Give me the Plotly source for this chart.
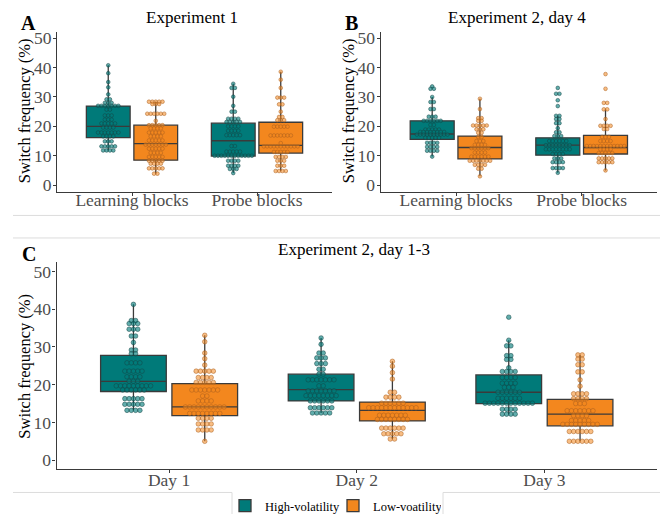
import numpy as np
import plotly.graph_objects as go

FONT = "Liberation Serif"
TEAL = "#007A79"
ORANGE = "#F3871E"
TEAL_DOT = "rgba(0,122,121,0.62)"
ORANGE_DOT = "rgba(243,135,30,0.55)"
TEAL_EDGE = "rgba(20,70,70,0.85)"
ORANGE_EDGE = "rgba(170,95,30,0.85)"

# ---------------- data ----------------
cats_A = ["Learning blocks", "Probe blocks"]
cats_B = ["Learning blocks", "Probe blocks"]
cats_C = ["Day 1", "Day 2", "Day 3"]
legend_names = ["High-volatility", "Low-voatility"]
y_ticks = [0, 10, 20, 30, 40, 50]

# box statistics  [q1, median, q3, lower whisker, upper whisker]
box_A_high = [[16.2, 20.0, 26.9, 11.8, 40.8], [9.9, 15.1, 21.1, 4.1, 34.5]]
box_A_low = [[8.5, 14.1, 20.4, 3.9, 28.4], [10.9, 13.5, 21.4, 4.8, 38.6]]
box_B_high = [[15.6, 17.4, 21.9, 9.7, 30.0], [10.2, 13.6, 16.1, 4.2, 23.6]]
box_B_low = [[8.9, 12.8, 16.7, 3.0, 29.4], [10.6, 12.8, 16.9, 5.0, 25.8]]
box_C_high = [[18.2, 20.9, 27.8, 13.2, 41.3], [15.7, 18.7, 22.8, 12.5, 32.4], [15.0, 18.0, 22.6, 12.2, 31.8]]
box_C_low = [[11.8, 14.1, 20.3, 5.0, 33.1], [10.4, 13.2, 15.4, 5.6, 26.2], [9.1, 12.2, 16.1, 5.0, 27.9]]

# individual participants: distinct values and how many participants share each
A_learn_high_vals = [40.8, 38.1, 35.1, 33.3, 30.9, 29.2, 28.0, 27.0, 25.7, 23.7, 22.3, 21.0, 19.6, 17.9, 16.6, 14.9, 13.2, 11.8]
A_learn_high_cnts = [1, 1, 1, 1, 1, 2, 3, 7, 2, 3, 3, 5, 4, 7, 4, 3, 5, 4]
A_learn_low_vals = [28.4, 27.6, 24.3, 21.9, 20.4, 19.3, 17.9, 16.6, 15.2, 13.8, 12.4, 11.0, 9.6, 8.3, 7.3, 5.7, 3.9]
A_learn_low_cnts = [5, 3, 6, 1, 5, 4, 5, 4, 5, 7, 5, 4, 5, 5, 4, 5, 2]
A_probe_high_vals = [34.5, 33.1, 30.1, 27.0, 25.0, 22.6, 21.5, 20.0, 18.5, 17.0, 13.3, 11.4, 10.0, 8.3, 6.6, 5.5, 4.1]
A_probe_high_cnts = [1, 2, 1, 1, 2, 4, 5, 4, 4, 5, 2, 5, 12, 4, 4, 3, 1]
A_probe_low_vals = [38.6, 35.9, 33.1, 29.8, 27.5, 25.0, 23.2, 22.1, 19.9, 16.9, 14.3, 13.2, 11.3, 9.6, 8.3, 6.6, 4.8]
A_probe_low_cnts = [1, 1, 1, 3, 2, 1, 2, 3, 5, 7, 1, 11, 5, 4, 3, 3, 4]

B_learn_high_vals = [33.6, 32.8, 30.0, 28.3, 25.9, 23.3, 21.9, 20.5, 18.9, 18.1, 17.2, 16.1, 14.4, 13.0, 11.7, 9.7]
B_learn_high_cnts = [1, 2, 1, 2, 2, 3, 6, 2, 5, 8, 10, 5, 4, 4, 4, 1]
B_learn_low_vals = [29.4, 25.9, 22.8, 21.9, 20.3, 19.0, 17.8, 16.4, 15.0, 13.7, 12.6, 11.1, 9.7, 8.3, 6.9, 5.6, 3.0]
B_learn_low_cnts = [1, 1, 2, 2, 5, 3, 2, 2, 3, 4, 6, 4, 6, 7, 4, 2, 1]
B_probe_high_vals = [33.1, 31.1, 28.9, 26.9, 23.6, 22.5, 21.1, 19.4, 18.0, 16.7, 15.0, 13.6, 12.2, 10.6, 9.1, 7.8, 5.8, 4.2]
B_probe_high_cnts = [1, 2, 1, 1, 2, 2, 2, 1, 2, 3, 6, 8, 8, 4, 3, 4, 4, 1]
B_probe_low_vals = [37.8, 32.8, 28.0, 25.8, 22.5, 20.2, 19.1, 16.4, 15.0, 13.3, 12.2, 10.9, 9.1, 7.8, 5.0]
B_probe_low_cnts = [1, 1, 2, 2, 1, 4, 2, 3, 4, 12, 4, 5, 5, 5, 1]

C_d1_high_vals = [41.3, 37.0, 36.2, 34.7, 32.9, 31.2, 29.2, 28.2, 25.8, 23.6, 22.1, 20.9, 19.7, 18.6, 16.3, 14.8, 13.2]
C_d1_high_cnts = [1, 2, 3, 3, 2, 1, 2, 2, 4, 5, 4, 3, 9, 6, 5, 5, 4]
C_d1_low_vals = [33.1, 31.4, 28.4, 26.9, 25.2, 23.6, 21.9, 20.6, 18.6, 17.0, 15.7, 14.1, 12.4, 11.1, 9.6, 8.0, 5.0]
C_d1_low_cnts = [1, 1, 1, 1, 1, 5, 4, 5, 7, 2, 4, 10, 8, 4, 4, 4, 1]
C_d2_high_vals = [32.4, 30.7, 28.4, 27.1, 25.6, 24.1, 22.8, 21.3, 19.7, 18.4, 17.1, 15.7, 13.9, 12.5]
C_d2_high_cnts = [1, 1, 2, 3, 3, 2, 2, 7, 2, 7, 8, 6, 6, 5]
C_d2_low_vals = [26.2, 24.9, 23.2, 21.5, 18.0, 16.7, 15.1, 13.9, 11.9, 10.8, 8.5, 7.0, 5.6]
C_d2_low_cnts = [1, 1, 1, 1, 2, 4, 6, 12, 7, 8, 6, 5, 2]
C_d3_high_vals = [37.9, 31.8, 30.3, 27.7, 26.7, 24.5, 23.5, 21.9, 20.4, 19.3, 18.0, 16.4, 15.1, 13.5, 12.2]
C_d3_high_cnts = [1, 1, 2, 2, 2, 1, 4, 4, 4, 3, 6, 6, 12, 4, 4]
C_d3_low_vals = [27.9, 26.8, 25.3, 23.4, 21.3, 19.6, 17.6, 16.3, 15.0, 13.1, 11.8, 10.5, 9.5, 7.6, 5.0]
C_d3_low_cnts = [2, 2, 2, 2, 1, 1, 4, 4, 3, 7, 4, 5, 9, 6, 6]

dots_A_high = [(A_learn_high_vals, A_learn_high_cnts), (A_probe_high_vals, A_probe_high_cnts)]
dots_A_low = [(A_learn_low_vals, A_learn_low_cnts), (A_probe_low_vals, A_probe_low_cnts)]
dots_B_high = [(B_learn_high_vals, B_learn_high_cnts), (B_probe_high_vals, B_probe_high_cnts)]
dots_B_low = [(B_learn_low_vals, B_learn_low_cnts), (B_probe_low_vals, B_probe_low_cnts)]
dots_C_high = [(C_d1_high_vals, C_d1_high_cnts), (C_d2_high_vals, C_d2_high_cnts), (C_d3_high_vals, C_d3_high_cnts)]
dots_C_low = [(C_d1_low_vals, C_d1_low_cnts), (C_d2_low_vals, C_d2_low_cnts), (C_d3_low_vals, C_d3_low_cnts)]

# ---------------- figure ----------------
W, H = 660, 521
fig = go.Figure()

DODGE = 0.19
BOXW = 0.35


def px_x(p):
    return p / W


def px_y(p):
    return 1 - p / H


def add_panel(xa, ya, cats, box_hi, box_lo, dots_hi, dots_lo, dot_step, dot_size, legend):
    for i in range(len(cats)):
        pos = i + 1
        for cond, (stats, dots, fill, dcol, ecol) in enumerate([
            (box_hi[i], dots_hi[i], TEAL, TEAL_DOT, TEAL_EDGE),
            (box_lo[i], dots_lo[i], ORANGE, ORANGE_DOT, ORANGE_EDGE),
        ]):
            xc = pos + (-DODGE if cond == 0 else DODGE)
            q1, med, q3, lo, hi = stats
            fig.add_trace(go.Box(
                x=[xc], q1=[q1], median=[med], q3=[q3], lowerfence=[lo], upperfence=[hi],
                width=BOXW, fillcolor=fill, line=dict(color="#3a3a3a", width=1.3),
                whiskerwidth=0, boxpoints=False, xaxis=xa, yaxis=ya,
                name=legend_names[cond], legendgroup=legend_names[cond],
                showlegend=(legend and i == 0), hoverinfo="skip"))
            vals, cnts = dots
            xs, ys = [], []
            for v, n in zip(vals, cnts):
                offs = (np.arange(n) - (n - 1) / 2) * dot_step
                xs.extend(xc + offs)
                ys.extend([v] * n)
            fig.add_trace(go.Scatter(
                x=xs, y=ys, mode="markers", xaxis=xa, yaxis=ya, showlegend=False,
                hoverinfo="skip", cliponaxis=False,
                marker=dict(size=dot_size, color=dcol, line=dict(color=ecol, width=0.6))))


add_panel("x", "y", cats_A, box_A_high, box_A_low, dots_A_high, dots_A_low, 0.0271, 3.7, False)
add_panel("x2", "y2", cats_B, box_B_high, box_B_low, dots_B_high, dots_B_low, 0.0271, 3.7, False)
add_panel("x3", "y3", cats_C, box_C_high, box_C_low, dots_C_high, dots_C_low, 0.0229, 4.6, True)

axis_common = dict(showline=True, linecolor="#3a3a3a", linewidth=1.2, ticks="outside",
                   ticklen=3, tickcolor="#3a3a3a", tickwidth=1, showgrid=False, zeroline=False,
                   tickfont=dict(family=FONT, size=17.5, color="#4d4d4d"), fixedrange=True)


def xaxis(dom, cats, anchor, standoff):
    return dict(axis_common, domain=dom, range=[0.4, len(cats) + 0.6],
                tickvals=list(range(1, len(cats) + 1)), ticktext=cats, anchor=anchor,
                ticklabelstandoff=standoff)


def yaxis(dom, rng, anchor):
    return dict(axis_common, domain=dom, range=rng, tickvals=y_ticks,
                ticktext=[str(t) for t in y_ticks], anchor=anchor, ticklabelstandoff=-2)


fig.update_layout(
    width=W, height=H, margin=dict(l=0, r=0, t=0, b=0),
    paper_bgcolor="white", plot_bgcolor="white", boxmode="overlay",
    font=dict(family=FONT, color="black"),
    xaxis=xaxis([px_x(57), px_x(332)], cats_A, "y", -11),
    yaxis=yaxis([px_y(192), px_y(29)], [-2.33, 52], "x"),
    xaxis2=xaxis([px_x(380.7), px_x(657)], cats_B, "y2", -11),
    yaxis2=yaxis([px_y(192), px_y(29)], [-2.33, 52], "x2"),
    xaxis3=xaxis([px_x(56.5), px_x(657)], cats_C, "y3", -8),
    yaxis3=yaxis([px_y(475), px_y(263.3)], [-2.34, 52.6], "x3"),
    legend=dict(orientation="h", x=px_x(333), xanchor="center", y=px_y(513), yanchor="middle",
                font=dict(family=FONT, size=12.5, color="black"), bgcolor="rgba(0,0,0,0)",
                itemwidth=30, tracegroupgap=0, entrywidth=63, entrywidthmode="pixels"),
    showlegend=True,
)

annotations = []


def ann(text, x, y, size, bold=False, angle=0):
    annotations.append(dict(text=("<b>%s</b>" % text) if bold else text, x=px_x(x), y=px_y(y),
                            xref="paper", yref="paper", showarrow=False, textangle=angle,
                            xanchor="center", yanchor="middle",
                            font=dict(family=FONT, size=size, color="black")))


ann("A", 28.5, 19, 20, bold=True)
ann("B", 351.5, 19, 20, bold=True)
ann("C", 28.5, 255, 20, bold=True)
ann("Experiment 1", 191.7, 14, 17)
ann("Experiment 2, day 4", 516.7, 14, 17)
ann("Experiment 2, day 1-3", 354, 250.5, 17)
ann("Switch frequency (%)", 24.5, 109, 16.5, angle=-90)
ann("Switch frequency (%)", 348.5, 109, 16.5, angle=-90)
ann("Switch frequency (%)", 24.5, 370, 16.5, angle=-90)
fig.update_layout(annotations=annotations)

shapes = []
GRAY = "#dcdcdc"


def hline(x0, x1, y):
    shapes.append(dict(type="line", xref="paper", yref="paper", x0=px_x(x0), x1=px_x(x1),
                       y0=px_y(y), y1=px_y(y), line=dict(color=GRAY, width=1)))


def vline(x, y0, y1):
    shapes.append(dict(type="line", xref="paper", yref="paper", x0=px_x(x), x1=px_x(x),
                       y0=px_y(y0), y1=px_y(y1), line=dict(color=GRAY, width=1)))


hline(13, 660, 216)
hline(13, 660, 239)
hline(13, 232, 499)
hline(443, 660, 499)
vline(232, 499, 521)
vline(443, 499, 521)
fig.update_layout(shapes=shapes)

fig.write_html("out.html", config={"displayModeBar": False},
               post_script="document.body.style.margin='0';document.body.style.overflow='hidden';")
